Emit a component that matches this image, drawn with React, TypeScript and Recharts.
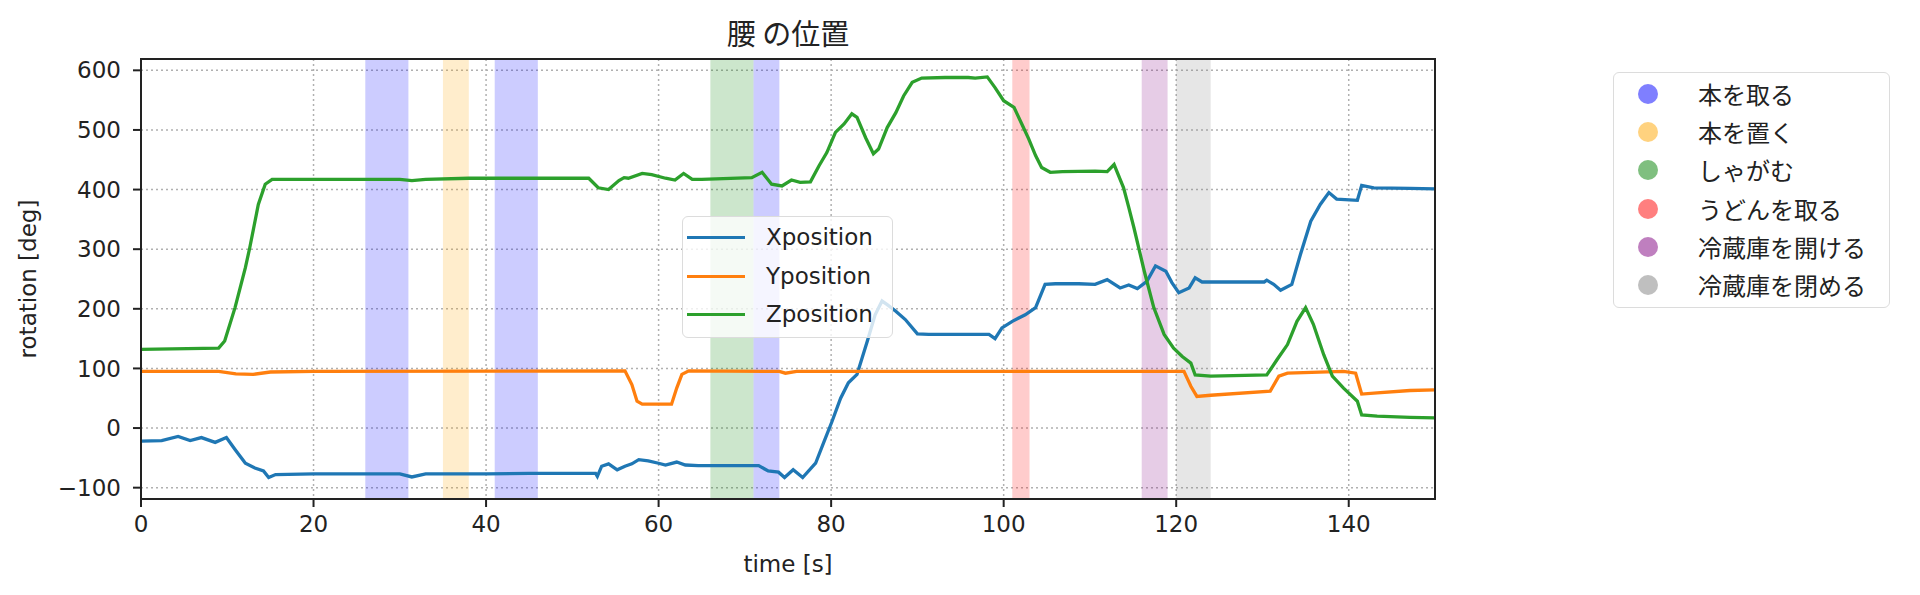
import React from 'react';
import {
  LineChart,
  Line,
  XAxis,
  YAxis,
  CartesianGrid,
  ReferenceArea,
} from 'recharts';

// values
const xTimes = [
  0, 2.4, 4.3, 5.7, 7, 8.6, 9.9, 10.9, 12.1, 13.2, 14.2, 14.8, 15.6, 20, 25, 30,
  31.4, 33, 40, 45, 50, 52.7, 52.9, 53.4, 54.2, 55.2, 56.1, 56.9, 57.7, 58.8, 60,
  60.8, 62.1, 63.1, 64.6, 70.8, 71.6, 72.7, 73.9, 74.6, 75.6, 76.7, 78.2, 79.2,
  80.1, 81.1, 82, 83, 84.2, 85.1, 85.9, 86.5, 87.5, 88.6, 90, 91.3, 95, 98.3, 99,
  99.8, 101, 102.5, 103.7, 104.8, 106, 108.7, 110.6, 112, 113.5, 114.5, 115.5,
  116.6, 117.6, 118.8, 119.5, 120.3, 121.5, 122.2, 123, 124, 130.2, 130.5, 131.3,
  132.1, 133.4, 134.4, 135.6, 136.7, 137.7, 138.6, 141, 141.5, 142.9, 147.1, 150,
];
const xValues = [
  -22, -21, -14, -21, -16, -24, -16, -36, -59, -67, -72, -83, -78, -77, -77, -77,
  -82, -77, -77, -76, -76, -76, -81, -64, -60, -70, -64, -60, -53, -55, -59,
  -62, -57, -62, -63, -63, -63, -72, -74, -83, -70, -83, -59, -22,
  11, 50, 76, 90, 146, 190, 213, 207, 196, 182, 158, 157, 157, 157, 150,
  168, 179, 190, 202, 241, 242, 242, 241, 249, 235, 240, 234,
  246, 272, 263, 244, 227, 235, 252, 245, 245, 245, 248, 241,
  231, 241, 291, 347, 375, 395, 384, 382, 407, 403, 402, 401,
];

const yTimes = [
  0, 9, 11, 13, 15, 20, 56.1, 56.9, 57.5, 58.1, 61.5, 62.1, 62.7, 63.5, 74, 74.7,
  76, 120.9, 121.7, 122.4, 124, 130.9, 131.9, 132.9, 139.4, 140.8, 141.5, 143.3,
  147.1, 150,
];
const yValues = [
  95, 95, 91, 90, 94, 95, 96, 73, 45, 40, 40, 67, 90, 96, 95, 92,
  95, 95, 70, 53, 55, 62, 87, 92, 95, 92, 57, 59,
  63, 64,
];

const zTimes = [
  0, 9, 9.7, 10.9, 12.1, 12.6, 13.6, 14.4, 15.2, 30, 31.4, 33, 38, 51.9, 53, 54.2,
  55.4, 56, 56.5, 58.1, 59.2, 60.8, 61.9, 62.9, 63.9, 65, 70.8, 72, 73.1, 74.3,
  75.4, 76.4, 77.6, 78.6, 79.5, 80.5, 81.5, 82.4, 83, 84, 84.9, 85.5, 86.5, 87.5,
  88.4, 89.4, 90.5, 93.2, 95.9, 96.7, 98.1, 99, 100, 101.2, 102.1, 102.9, 103.7,
  104.4, 105.4, 106.8, 110.6, 112, 112.8, 113.9, 114.5, 115.1, 116.3, 117.4,
  118.6, 119.7, 120.7, 121.7, 122.2, 124, 130.5, 131.7, 132.9, 134, 135, 135.9,
  137.1, 138.1, 139.4, 141, 141.5, 143.3, 147.1, 150,
];
const zValues = [
  132, 134, 146, 202, 269, 302, 375, 409, 417, 417, 415, 417, 419, 419, 403, 400,
  415, 420, 419, 427, 425, 419, 416, 427, 417, 417, 420, 429, 409, 406,
  416, 412, 413, 440, 462, 496, 510, 527, 521, 487, 460, 468, 504, 529,
  557, 580, 587, 588, 588, 587, 589, 571, 549, 538, 510, 485, 457,
  437, 429, 430, 431, 430, 442, 403, 370, 336, 263, 202,
  157, 134, 120, 109, 89, 87, 89, 115, 140, 179, 202, 174,
  123, 87, 67, 45, 22, 20, 18, 17,
];

const actionNames = ['本を取る', '本を置く', 'しゃがむ', 'うどんを取る', '冷蔵庫を開ける', '冷蔵庫を閉める'];
const spanStarts = [26, 35, 41, 66, 71, 101, 116, 120];
const spanEnds = [31, 38, 46, 71, 74, 103, 119, 124];
const spanActions = [0, 1, 0, 2, 0, 3, 4, 5];

const xTicks = [0, 20, 40, 60, 80, 100, 120, 140];
const yTicks = [-100, 0, 100, 200, 300, 400, 500, 600];

const ACTION_COLORS = ['#0000ff', '#ffa500', '#008000', '#ff0000', '#800080', '#808080'];
const SERIES = [
  { name: 'Xposition', color: '#1f77b4', times: xTimes, values: xValues },
  { name: 'Yposition', color: '#ff7f0e', times: yTimes, values: yValues },
  { name: 'Zposition', color: '#2ca02c', times: zTimes, values: zValues },
];

const FONT = "'DejaVu Sans', 'Noto Sans CJK JP', sans-serif";
const JP_FONT = "'Noto Sans CJK JP', 'DejaVu Sans', sans-serif";
const TICK_STYLE = { fontSize: 23, fill: '#222', fontFamily: FONT };

const toRows = (times: number[], values: number[]) =>
  times.map((t, i) => ({ t, v: values[i] }));

// matplotlib draws a real minus sign
const fmtTick = (v: number) => String(v).replace('-', '\u2212');

const App: React.FC = () => {
  return (
    <div style={{ position: 'absolute', left: 0, top: 0, width: 1920, height: 595, background: '#fff' }}>
      <LineChart width={1920} height={595} margin={{ top: 59, right: 485, bottom: 0, left: 0 }}>
        <CartesianGrid stroke="#b0b0b0" strokeDasharray="2 3" strokeWidth={1.5} />
        {spanStarts.map((s, i) => (
          <ReferenceArea
            key={i}
            x1={s}
            x2={spanEnds[i]}
            fill={ACTION_COLORS[spanActions[i]]}
            fillOpacity={0.2}
            stroke="none"
          />
        ))}
        <XAxis
          dataKey="t"
          type="number"
          domain={[0, 150]}
          ticks={xTicks}
          allowDataOverflow
          height={96}
          axisLine={false}
          tickLine={{ stroke: '#222', strokeWidth: 2 }}
          tickSize={8}
          tickMargin={9}
          tick={TICK_STYLE}
          label={{ value: 'time [s]', position: 'insideBottom', offset: 23, style: TICK_STYLE }}
        />
        <YAxis
          type="number"
          domain={[-119, 619]}
          ticks={yTicks}
          allowDataOverflow
          width={141}
          axisLine={false}
          tickLine={{ stroke: '#222', strokeWidth: 2 }}
          tickSize={8}
          tickMargin={12}
          tick={TICK_STYLE}
          tickFormatter={fmtTick}
          label={{
            value: 'rotation [deg]',
            angle: -90,
            position: 'insideLeft',
            offset: 28,
            style: { ...TICK_STYLE, textAnchor: 'middle' },
          }}
        />
        {SERIES.map((s) => (
          <Line
            key={s.name}
            data={toRows(s.times, s.values)}
            dataKey="v"
            name={s.name}
            stroke={s.color}
            strokeWidth={3.3}
            dot={false}
            activeDot={false}
            type="linear"
            isAnimationActive={false}
          />
        ))}
      </LineChart>

      {/* plot frame */}
      <div
        style={{
          position: 'absolute',
          left: 140,
          top: 58,
          width: 1296,
          height: 442,
          border: '2px solid #222',
          boxSizing: 'border-box',
          pointerEvents: 'none',
        }}
      />

      {/* title */}
      <div
        style={{
          position: 'absolute',
          left: 141,
          width: 1294,
          top: 14,
          textAlign: 'center',
          fontFamily: JP_FONT,
          fontSize: 29,
          lineHeight: '36px',
          color: '#222',
        }}
      >
        腰 の位置
      </div>

      {/* series legend */}
      <div
        style={{
          position: 'absolute',
          left: 682,
          top: 216,
          width: 211,
          height: 122,
          boxSizing: 'border-box',
          background: 'rgba(255,255,255,0.8)',
          border: '1px solid #dcdcdc',
          borderRadius: 6,
          paddingTop: 1,
        }}
      >
        {SERIES.map((s) => (
          <div key={s.name} style={{ position: 'relative', height: 38.5 }}>
            <div
              style={{
                position: 'absolute',
                left: 4,
                top: 18,
                width: 58,
                height: 3.4,
                background: s.color,
              }}
            />
            <div
              style={{
                position: 'absolute',
                left: 83,
                top: 0,
                lineHeight: '38.5px',
                fontFamily: FONT,
                fontSize: 23,
                color: '#222',
              }}
            >
              {s.name}
            </div>
          </div>
        ))}
      </div>

      {/* action legend */}
      <div
        style={{
          position: 'absolute',
          left: 1613,
          top: 72,
          width: 277,
          height: 236,
          boxSizing: 'border-box',
          background: '#fff',
          border: '1px solid #dcdcdc',
          borderRadius: 6,
          paddingTop: 2,
        }}
      >
        {actionNames.map((name, i) => (
          <div key={name} style={{ position: 'relative', height: 38.2 }}>
            <div
              style={{
                position: 'absolute',
                left: 24,
                top: 9,
                width: 20,
                height: 20,
                borderRadius: '50%',
                background: ACTION_COLORS[i],
                opacity: 0.5,
              }}
            />
            <div
              style={{
                position: 'absolute',
                left: 84,
                top: 0,
                lineHeight: '38.2px',
                fontFamily: JP_FONT,
                fontSize: 24,
                color: '#222',
              }}
            >
              {name}
            </div>
          </div>
        ))}
      </div>
    </div>
  );
};

export default App;
